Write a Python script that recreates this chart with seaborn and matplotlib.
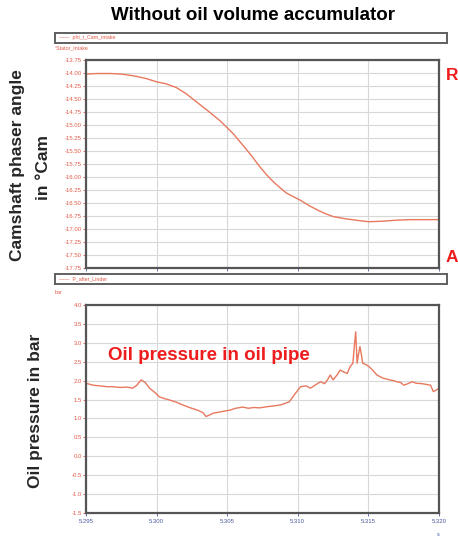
import matplotlib
matplotlib.use("Agg")
import matplotlib.pyplot as plt
import numpy as np
import pandas as pd
import seaborn as sns

# camshaft phaser angle (top trace)
t_cam = [5.2950, 5.2958, 5.2967, 5.2975, 5.2985, 5.2993, 5.3000, 5.3007, 5.3014, 5.3021,
         5.3028, 5.3036, 5.3045, 5.3054, 5.3063, 5.3068, 5.3073, 5.3078, 5.3083, 5.3088,
         5.3092, 5.3097, 5.3102, 5.3108, 5.3115, 5.3120, 5.3125, 5.3133, 5.3141, 5.3150,
         5.3160, 5.3170, 5.3180, 5.3190, 5.3200]
angle = [-14.02, -14.01, -14.01, -14.02, -14.06, -14.11, -14.17, -14.21, -14.28, -14.40,
         -14.55, -14.72, -14.92, -15.16, -15.45, -15.62, -15.80, -15.96, -16.10, -16.22,
         -16.31, -16.38, -16.45, -16.55, -16.65, -16.71, -16.76, -16.80, -16.83, -16.86,
         -16.85, -16.83, -16.82, -16.82, -16.82]

# oil pressure (bottom trace)
t_p = [5.2950, 5.2955, 5.2960, 5.2965, 5.2969, 5.2974, 5.2979, 5.2983, 5.2986, 5.2989,
       5.2992, 5.2995, 5.2999, 5.3002, 5.3006, 5.3009, 5.3014, 5.3019, 5.3024, 5.3029,
       5.3033, 5.3035, 5.3038, 5.3040, 5.3046, 5.3052, 5.3056, 5.3061, 5.3065, 5.3069,
       5.3073, 5.3078, 5.3083, 5.3088, 5.3094, 5.3098, 5.3102, 5.3106, 5.3109, 5.3113,
       5.3116, 5.3119, 5.3121, 5.3123, 5.3125, 5.3128, 5.3130, 5.3133, 5.3135, 5.3137,
       5.3139, 5.3140, 5.3141, 5.3142, 5.3143, 5.3144, 5.3145, 5.3146, 5.3149, 5.3151,
       5.3153, 5.3156, 5.3160, 5.3163, 5.3165, 5.3168, 5.3170, 5.3173, 5.3175, 5.3178,
       5.3181, 5.3184, 5.3188, 5.3191, 5.3194, 5.3196, 5.3198, 5.3200]
pressure = [1.93, 1.88, 1.86, 1.84, 1.84, 1.82, 1.83, 1.80, 1.88, 2.02,
            1.95, 1.80, 1.68, 1.57, 1.52, 1.49, 1.43, 1.35, 1.28, 1.22,
            1.15, 1.05, 1.10, 1.14, 1.18, 1.22, 1.27, 1.30, 1.27, 1.29,
            1.28, 1.31, 1.33, 1.36, 1.44, 1.65, 1.84, 1.86, 1.80, 1.90,
            1.97, 1.92, 2.02, 2.15, 2.02, 2.16, 2.28, 2.22, 2.19, 2.37,
            2.46, 2.90, 3.29, 2.46, 2.70, 2.90, 2.70, 2.46, 2.41, 2.35,
            2.28, 2.15, 2.07, 2.04, 2.02, 2.00, 1.97, 1.95, 1.88, 1.92,
            1.97, 1.93, 1.92, 1.90, 1.88, 1.71, 1.75, 1.80]

x_ticks = [5.295, 5.300, 5.305, 5.310, 5.315, 5.320]

df_cam = pd.DataFrame({'t': t_cam, 'angle': angle})
df_p = pd.DataFrame({'t': t_p, 'p': pressure})

sns.set_style("whitegrid")
plt.rcParams['font.family'] = ['Liberation Sans', 'DejaVu Sans']

LINE = '#e8785e'
TICKRED = '#e25a48'
TICKBLUE = '#4b5b9c'
RED = '#ee1c1c'

fig = plt.figure(figsize=(4.58, 5.41), dpi=100)
W, H = 458, 541


def box(x0, y0, x1, y1):
    return [x0 / W, 1 - y1 / H, (x1 - x0) / W, (y1 - y0) / H]


def style_axes(ax):
    ax.grid(True, color='#d8d8d8', linewidth=0.8)
    for s in ax.spines.values():
        s.set_color('#555555')
        s.set_linewidth(1.6)
    ax.tick_params(axis='y', colors=TICKRED, labelsize=4.3, length=2, width=0.6, pad=1,
                   left=True)
    ax.tick_params(axis='x', colors=TICKBLUE, labelsize=4.3, length=2, width=0.6, pad=2,
                   bottom=True)
    ax.set_xlim(5.295, 5.320)
    ax.set_xticks(x_ticks)
    ax.set_xlabel('')
    ax.set_ylabel('')


# legend-like boxes
for (y0, y1, name) in [(33, 43, 'phi_t_Cam_intake'), (274, 284, 'P_after_Linder')]:
    lb = fig.add_axes(box(55, y0, 447, y1))
    lb.set_xticks([])
    lb.set_yticks([])
    lb.set_facecolor('white')
    for s in lb.spines.values():
        s.set_color('#606060')
        s.set_linewidth(1.4)
    lb.text(0.01, 0.5, '\u2014\u2014  ' + name, color=TICKRED, fontsize=3.8,
            va='center', ha='left', transform=lb.transAxes)

# top panel
ax1 = fig.add_axes(box(86, 60, 439, 268))
sns.lineplot(data=df_cam, x='t', y='angle', ax=ax1, color=LINE, linewidth=1.0)
style_axes(ax1)
ax1.set_ylim(-17.75, -13.75)
ax1.set_yticks(np.arange(-17.75, -13.74, 0.25))
ax1.set_yticklabels([f'{v:.2f}' for v in np.arange(-17.75, -13.74, 0.25)])
ax1.tick_params(axis='x', labelbottom=False)
fig.text(55 / W, 1 - 48 / H, '\u00b0Stator_Intake', color=TICKRED, fontsize=3.8,
         va='center', ha='left')

# bottom panel
ax2 = fig.add_axes(box(86, 305, 439, 513))
sns.lineplot(data=df_p, x='t', y='p', ax=ax2, color=LINE, linewidth=1.0)
style_axes(ax2)
ax2.set_ylim(-1.5, 4.0)
ax2.set_yticks(np.arange(-1.5, 4.01, 0.5))
ax2.set_yticklabels([f'{v:.1f}' for v in np.arange(-1.5, 4.01, 0.5)])
ax2.set_xticklabels([f'{v:.3f}' for v in x_ticks])
fig.text(55 / W, 1 - 293 / H, 'bar', color=TICKRED, fontsize=3.8, va='center', ha='left')
fig.text(438 / W, 1 - 535 / H, 's', color=TICKBLUE, fontsize=4, va='center', ha='center')

# annotations
fig.text(253 / W, 1 - 16 / H, 'Without oil volume accumulator', fontsize=13.5,
         fontweight='bold', ha='center', va='center', color='black')
fig.text(18 / W, 1 - 165 / H, 'Camshaft phaser angle', fontsize=12.5, fontweight='bold',
         rotation=90, ha='center', va='center')
fig.text(43 / W, 1 - 168 / H, 'in \u00b0Cam', fontsize=12.5, fontweight='bold',
         rotation=90, ha='center', va='center')
fig.text(36 / W, 1 - 411 / H, 'Oil pressure in bar', fontsize=12.5, fontweight='bold',
         rotation=90, ha='center', va='center')
fig.text(452 / W, 1 - 75 / H, 'R', fontsize=12.5, fontweight='bold', color=RED,
         ha='center', va='center')
fig.text(452 / W, 1 - 257 / H, 'A', fontsize=12.5, fontweight='bold', color=RED,
         ha='center', va='center')
fig.text(108 / W, 1 - 355 / H, 'Oil pressure in oil pipe', fontsize=13.5,
         fontweight='bold', color=RED, ha='left', va='center')

fig.savefig('out.png', dpi=100)
